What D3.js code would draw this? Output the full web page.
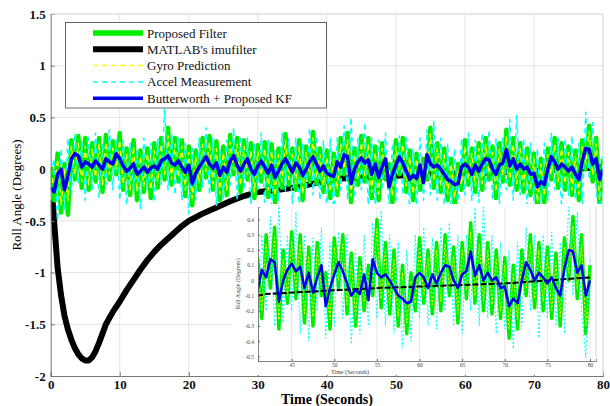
<!DOCTYPE html>
<html>
<head>
<meta charset="utf-8">
<script src="https://cdn.jsdelivr.net/npm/d3@7"></script>
<style>
  body { margin: 0; background: #fff; }
  svg { display: block; }
</style>
</head>
<body>
<svg id="chart" width="610" height="406"></svg>
<script>
// --- Data ---
const STEP = 0.5; // seconds between samples of the noisy series

// Proposed Filter (green)
const proposed = [
  0.02, -0.3, 0.15, -0.42, 0.05, -0.44, 0.28, -0.1, 0.32, -0.18,
  0.3, -0.2, 0.25, -0.12, 0.3, -0.22, 0.33, -0.1, 0.27, -0.05,
  0.35, -0.2, 0.2, -0.25, 0.28, -0.3, 0.18, -0.22, 0.2, -0.28,
  0.25, -0.18, 0.3, -0.1, 0.4, -0.15, 0.3, -0.12, 0.28, -0.26,
  0.22, -0.35, 0.18, -0.2, 0.3, -0.08, 0.32, -0.2, 0.27, -0.3,
  0.22, -0.25, 0.33, -0.05, 0.3, -0.22, 0.28, -0.1, 0.25, -0.28,
  0.23, -0.12, 0.26, -0.27, 0.24, -0.33, 0.2, -0.18, 0.34, -0.15,
  0.2, -0.2, 0.28, -0.3, 0.22, -0.12, 0.36, -0.14, 0.2, -0.22,
  0.18, -0.28, 0.15, -0.25, 0.3, -0.05, 0.35, -0.32, 0.2, -0.15,
  0.32, -0.12, 0.3, -0.28, 0.22, -0.3, 0.25, -0.1, 0.05, -0.32,
  0.28, -0.05, 0.3, -0.22, 0.18, -0.3, 0.15, -0.2, 0.1, -0.1,
  0.4, -0.18, 0.25, -0.22, 0.2, -0.3, 0.1, -0.35, 0.05, -0.2,
  0.28, -0.15, 0.2, -0.22, 0.25, -0.2, 0.3, -0.1, 0.22, -0.28,
  0.25, -0.12, 0.38, -0.15, 0.3, -0.2, 0.25, -0.22, 0.2, -0.25,
  0.15, -0.38, 0.1, -0.32, 0.2, -0.1, 0.3, -0.18, 0.25, -0.2,
  0.22, -0.25, 0.18, -0.3, 0.28, 0.0, 0.42, -0.12, 0.3, -0.35,
  0.1
];

// Gyro Prediction (yellow dashed)
const gyro = [
  0.0, -0.2, 0.1, -0.35, 0.0, -0.3, 0.22, -0.05, 0.25, -0.12,
  0.22, -0.15, 0.2, -0.08, 0.24, -0.15, 0.26, -0.05, 0.2, 0.0,
  0.28, -0.14, 0.15, -0.2, 0.22, -0.22, 0.12, -0.16, 0.15, -0.2,
  0.18, -0.12, 0.24, -0.05, 0.32, -0.1, 0.24, -0.08, 0.22, -0.2,
  0.16, -0.28, 0.12, -0.14, 0.24, -0.02, 0.26, -0.14, 0.2, -0.24,
  0.16, -0.2, 0.26, 0.0, 0.24, -0.16, 0.22, -0.05, 0.18, -0.22,
  0.17, -0.06, 0.2, -0.2, 0.18, -0.26, 0.14, -0.12, 0.28, -0.1,
  0.14, -0.14, 0.22, -0.24, 0.16, -0.06, 0.3, -0.08, 0.14, -0.16,
  0.12, -0.22, 0.1, -0.2, 0.24, 0.0, 0.28, -0.26, 0.14, -0.1,
  0.26, -0.06, 0.24, -0.22, 0.16, -0.24, 0.2, -0.05, 0.0, -0.26,
  0.22, 0.0, 0.24, -0.16, 0.12, -0.24, 0.1, -0.14, 0.05, -0.05,
  0.34, -0.12, 0.2, -0.16, 0.14, -0.24, 0.05, -0.28, 0.0, -0.15,
  0.22, -0.1, 0.15, -0.16, 0.2, -0.14, 0.24, -0.05, 0.16, -0.22,
  0.2, -0.06, 0.32, -0.1, 0.24, -0.14, 0.2, -0.16, 0.14, -0.2,
  0.1, -0.32, 0.05, -0.26, 0.14, -0.05, 0.24, -0.12, 0.2, -0.14,
  0.16, -0.2, 0.12, -0.24, 0.22, 0.05, 0.36, -0.06, 0.24, -0.3,
  0.05
];

// Accel Measurement (cyan dashed)
const accel = [
  -0.05, 0.1, -0.5, 0.2, -0.4, 0.3, -0.25, 0.35, -0.15, 0.28,
  -0.3, 0.3, -0.2, 0.35, -0.28, 0.25, -0.15, 0.38, -0.2, 0.3,
  -0.3, 0.28, -0.35, 0.25, -0.22, 0.2, -0.38, 0.3, -0.2, 0.25,
  -0.32, 0.3, -0.15, 0.58, -0.2, 0.35, -0.25, 0.3, -0.3, 0.25,
  -0.43, 0.2, -0.3, 0.3, -0.18, 0.4, -0.25, 0.3, -0.35, 0.2,
  -0.3, 0.28, -0.15, 0.4, -0.3, 0.32, -0.2, 0.3, -0.35, 0.25,
  -0.2, 0.35, -0.32, 0.28, -0.4, 0.2, -0.3, 0.35, -0.22, 0.3,
  -0.35, 0.3, -0.38, 0.25, -0.2, 0.4, -0.25, 0.32, -0.3, 0.28,
  -0.38, 0.3, -0.46, 0.3, -0.2, 0.42, -0.3, 0.5, -0.28, 0.3,
  -0.2, 0.45, -0.35, 0.3, -0.4, 0.28, -0.2, 0.35, -0.38, 0.25,
  -0.3, 0.32, -0.25, 0.3, -0.42, 0.2, -0.35, 0.3, -0.3, 0.38,
  -0.25, 0.46, -0.3, 0.3, -0.35, 0.25, -0.44, 0.2, -0.4, 0.3,
  -0.25, 0.35, -0.3, 0.28, -0.32, 0.35, -0.2, 0.38, -0.3, 0.3,
  -0.35, 0.3, -0.2, 0.48, -0.3, 0.52, -0.25, 0.3, -0.35, 0.25,
  -0.32, 0.2, -0.45, 0.25, -0.3, 0.35, -0.2, 0.3, -0.38, 0.3,
  -0.25, 0.32, -0.3, 0.25, -0.35, 0.55, -0.1, 0.45, -0.2, -0.51,
  0.15
];

// Butterworth + Proposed KF (blue)
const butterKF = [
  -0.18, -0.22, -0.05, 0.0, -0.2, -0.06, 0.1, 0.15, 0.13, 0.02,
  0.07, 0.05, 0.02, 0.08, 0.04, 0.0, 0.1, 0.07, 0.05, 0.15,
  0.1, 0.03, -0.02, 0.01, 0.05, -0.05, -0.02, 0.02, -0.03, 0.01,
  0.03, 0.0, 0.08, 0.1, 0.13, 0.06, 0.04, 0.08, 0.02, -0.03,
  0.04, -0.14, -0.04, 0.02, 0.07, 0.12, 0.05, 0.01, 0.06, -0.06,
  0.02, -0.03, 0.08, 0.13, 0.04, -0.02, 0.05, 0.1, 0.0, -0.05,
  0.03, 0.08, 0.02, -0.04, 0.04, -0.08, -0.02, 0.05, 0.1, 0.04,
  -0.03, 0.06, 0.02, -0.06, 0.0, 0.07, 0.12, 0.05, -0.02, 0.03,
  -0.04, -0.06, -0.07, 0.07, 0.02, 0.14, 0.12, -0.14, 0.0, 0.07,
  0.11, 0.06, 0.09, -0.05, 0.05, -0.08, 0.02, 0.1, -0.17, -0.05,
  0.04, 0.12, 0.06, -0.02, -0.1, -0.06, -0.09, 0.04, -0.13, 0.14,
  0.05, 0.02, 0.04, 0.0, -0.05, -0.1, -0.12, -0.15, -0.14, 0.02,
  0.05, 0.02, -0.05, 0.04, -0.02, 0.05, 0.1, 0.09, 0.0, -0.05,
  0.04, 0.06, 0.19, 0.03, 0.1, 0.0, 0.05, 0.0, 0.02, -0.05,
  -0.04, -0.17, -0.12, -0.15, 0.0, 0.12, 0.07, 0.0, 0.05, 0.02,
  -0.02, 0.02, -0.05, -0.1, 0.08, 0.2, 0.19, 0.05, 0.1, -0.1,
  0.0
];

// MATLAB's imufilter (black), irregular sampling
const imuTime = [0, 0.3, 0.6, 1, 1.5, 2, 2.5, 3, 3.5, 4, 4.5, 5, 5.5, 6, 6.5, 7, 7.5, 8,
  9, 10, 11, 12, 13, 14, 15, 16, 17, 18, 19, 20,
  22, 24, 26, 28, 30, 32, 34, 36, 38, 40,
  42, 45, 50, 55, 60, 65, 70, 75, 80];
const imuValue = [-0.3, -0.33, -0.6, -0.95, -1.22, -1.42, -1.55, -1.65, -1.73, -1.79, -1.83, -1.85, -1.85, -1.82, -1.76, -1.68, -1.59, -1.5,
  -1.38, -1.28, -1.17, -1.07, -0.97, -0.88, -0.8, -0.73, -0.67, -0.61, -0.55, -0.5,
  -0.43, -0.37, -0.31, -0.26, -0.22, -0.21, -0.19, -0.17, -0.14, -0.11,
  -0.09, -0.08, -0.065, -0.05, -0.04, -0.03, -0.02, 0.0, 0.02];

const xTicks = [0, 10, 20, 30, 40, 50, 60, 70, 80];
const yTicks = [-2, -1.5, -1, -0.5, 0, 0.5, 1, 1.5];
const insetXTicks = [45, 50, 55, 60, 65, 70, 75, 80];
const insetYTicks = [-0.5, -0.4, -0.3, -0.2, -0.1, 0, 0.1, 0.2, 0.3, 0.4];
const legendLabels = ["Proposed Filter", "MATLAB's imufilter", "Gyro Prediction", "Accel Measurement", "Butterworth + Proposed KF"];

const times = d3.range(proposed.length).map(i => i * STEP);

// --- Layout ---
const SERIF = "'Liberation Serif', 'Times New Roman', serif";
const svg = d3.select("#chart");

const x = d3.scaleLinear().domain([0, 80]).range([50.7, 603]);
const y = d3.scaleLinear().domain([-2, 1.5]).range([376, 14]);

// w/dash: main plot and legend, wi/dashi: inset
const styles = {
  "Proposed Filter": { color: "#00ee00", w: 4.5, dash: null, wi: 3.5, dashi: null },
  "MATLAB's imufilter": { color: "#000", w: 6, dash: null, wi: 2, dashi: "6,2" },
  "Gyro Prediction": { color: "#ffff00", w: 1.5, dash: "5,4", wi: 1, dashi: "2,2" },
  "Accel Measurement": { color: "#00ffff", w: 1.5, dash: "5,4", wi: 1, dashi: "2,2" },
  "Butterworth + Proposed KF": { color: "#0000ee", w: 3.5, dash: null, wi: 2.5, dashi: null }
};
const seriesData = {
  "Proposed Filter": proposed.map((v, i) => [times[i], v]),
  "Gyro Prediction": gyro.map((v, i) => [times[i], v]),
  "Accel Measurement": accel.map((v, i) => [times[i], v]),
  "MATLAB's imufilter": imuValue.map((v, i) => [imuTime[i], v]),
  "Butterworth + Proposed KF": butterKF.map((v, i) => [times[i], v])
};
// black sits under the band in the main plot, above it in the inset
const mainOrder = ["MATLAB's imufilter", "Proposed Filter", "Gyro Prediction", "Accel Measurement", "Butterworth + Proposed KF"];
const insetOrder = ["Proposed Filter", "Gyro Prediction", "Accel Measurement", "MATLAB's imufilter", "Butterworth + Proposed KF"];

// --- Grid ---
const grid = svg.append("g");
grid.selectAll(".gx").data(xTicks.slice(1)).enter().append("line")
  .attr("x1", d => x(d)).attr("x2", d => x(d))
  .attr("y1", y(-2)).attr("y2", y(1.5))
  .attr("stroke", "#e3e3e3").attr("stroke-width", 1);
grid.selectAll(".gy").data(yTicks.slice(1)).enter().append("line")
  .attr("x1", x(0)).attr("x2", x(80))
  .attr("y1", d => y(d)).attr("y2", d => y(d))
  .attr("stroke", "#e3e3e3").attr("stroke-width", 1);

// --- Main series ---
svg.append("clipPath").attr("id", "mainClip").append("rect")
  .attr("x", x(0)).attr("y", y(1.5)).attr("width", x(80) - x(0)).attr("height", y(-2) - y(1.5));

const mainG = svg.append("g").attr("clip-path", "url(#mainClip)");
const mainLine = d3.line().x(d => x(d[0])).y(d => y(d[1]));
mainOrder.forEach(name => {
  const s = styles[name];
  mainG.append("path")
    .attr("d", mainLine(seriesData[name]))
    .attr("fill", "none")
    .attr("stroke", s.color)
    .attr("stroke-width", s.w)
    .attr("stroke-dasharray", s.dash)
    .attr("stroke-linejoin", "round");
});

// --- Axes ---
const yAxis = svg.append("g")
  .attr("transform", `translate(${x(0)},0)`)
  .call(d3.axisLeft(y).tickValues(yTicks).tickSize(-4).tickPadding(5).tickFormat(d => String(d)));
const xAxis = svg.append("g")
  .attr("transform", `translate(0,${y(-2)})`)
  .call(d3.axisBottom(x).tickValues(xTicks).tickSize(-4).tickPadding(4).tickFormat(d => String(d)));
[xAxis, yAxis].forEach(a => {
  a.select(".domain").attr("stroke", "#777");
  a.selectAll(".tick line").attr("stroke", "#777");
  a.selectAll("text").attr("font-family", SERIF).attr("font-size", 13)
    .attr("font-weight", "bold").attr("fill", "#111");
});
// light top/right frame
svg.append("line").attr("x1", x(0)).attr("x2", x(80)).attr("y1", y(1.5)).attr("y2", y(1.5)).attr("stroke", "#ddd");
svg.append("line").attr("x1", x(80)).attr("x2", x(80)).attr("y1", y(1.5)).attr("y2", y(-2)).attr("stroke", "#ddd");

svg.append("text")
  .attr("x", 327).attr("y", 404)
  .attr("text-anchor", "middle")
  .attr("font-family", SERIF).attr("font-size", 14).attr("font-weight", "bold")
  .text("Time (Seconds)");

svg.append("text")
  .attr("transform", "translate(21,195) rotate(-90)")
  .attr("text-anchor", "middle")
  .attr("font-family", SERIF).attr("font-size", 13)
  .text("Roll Angle (Degrees)");

// --- Inset (zoom of 41 - 80 s) ---
const xi = d3.scaleLinear().domain([41.05, 80.7]).range([258, 596]);
const yi = d3.scaleLinear().domain([-0.53, 0.483]).range([361, 207]);

const inset = svg.append("g");
inset.append("rect").attr("x", 232).attr("y", 204).attr("width", 370).attr("height", 171).attr("fill", "#fff");

inset.selectAll(".igx").data(insetXTicks).enter().append("line")
  .attr("x1", d => xi(d)).attr("x2", d => xi(d))
  .attr("y1", yi.range()[0]).attr("y2", yi.range()[1])
  .attr("stroke", "#e0e0e0").attr("stroke-width", 0.8);

svg.append("clipPath").attr("id", "insetClip").append("rect")
  .attr("x", 258).attr("y", 207).attr("width", 596 - 258).attr("height", 361 - 207);

const insetG = inset.append("g").attr("clip-path", "url(#insetClip)");
const insetLine = d3.line().x(d => xi(d[0])).y(d => yi(d[1]));
insetOrder.forEach(name => {
  const s = styles[name];
  insetG.append("path")
    .attr("d", insetLine(seriesData[name].filter(d => d[0] >= 40)))
    .attr("fill", "none")
    .attr("stroke", s.color)
    .attr("stroke-width", s.wi)
    .attr("stroke-dasharray", s.dashi)
    .attr("stroke-linejoin", "round");
});

const iyAxis = inset.append("g")
  .attr("transform", "translate(258,0)")
  .call(d3.axisLeft(yi).tickValues(insetYTicks).tickSize(-2).tickPadding(4).tickFormat(d => String(d)));
const ixAxis = inset.append("g")
  .attr("transform", "translate(0,361)")
  .call(d3.axisBottom(xi).tickValues(insetXTicks).tickSize(-2).tickPadding(2).tickFormat(d => String(d)));
[iyAxis, ixAxis].forEach(a => {
  a.select(".domain").attr("stroke", "#666").attr("stroke-width", 0.8);
  a.selectAll(".tick line").attr("stroke", "#666");
  a.selectAll("text").attr("font-family", SERIF).attr("font-size", 5.5).attr("fill", "#444");
});
inset.append("line").attr("x1", 596).attr("x2", 596).attr("y1", 207).attr("y2", 361).attr("stroke", "#ccc").attr("stroke-width", 0.8);

inset.append("text")
  .attr("x", 350).attr("y", 374)
  .attr("text-anchor", "middle")
  .attr("font-family", SERIF).attr("font-size", 6).attr("fill", "#444")
  .text("Time (Seconds)");
inset.append("text")
  .attr("transform", "translate(240,284) rotate(-90)")
  .attr("text-anchor", "middle")
  .attr("font-family", SERIF).attr("font-size", 6).attr("fill", "#444")
  .text("Roll Angle (Degrees)");

// --- Legend ---
const legend = svg.append("g");
legend.append("rect")
  .attr("x", 65.5).attr("y", 22.5).attr("width", 261).attr("height", 85.5)
  .attr("fill", "#fff").attr("stroke", "#666").attr("stroke-width", 1);

const legendItems = legend.selectAll(".legend-item")
  .data(legendLabels)
  .enter().append("g")
  .attr("transform", (d, i) => `translate(0,${33 + i * 16.3})`);

legendItems.append("line")
  .attr("x1", 93).attr("x2", 143).attr("y1", 0).attr("y2", 0)
  .attr("stroke", d => styles[d].color)
  .attr("stroke-width", d => d === "Proposed Filter" ? 5.5 : styles[d].w)
  .attr("stroke-dasharray", d => styles[d].dash);

legendItems.append("text")
  .attr("x", 147).attr("y", 4.5)
  .attr("font-family", SERIF).attr("font-size", 13).attr("fill", "#111")
  .text(d => d);
</script>
</body>
</html>
